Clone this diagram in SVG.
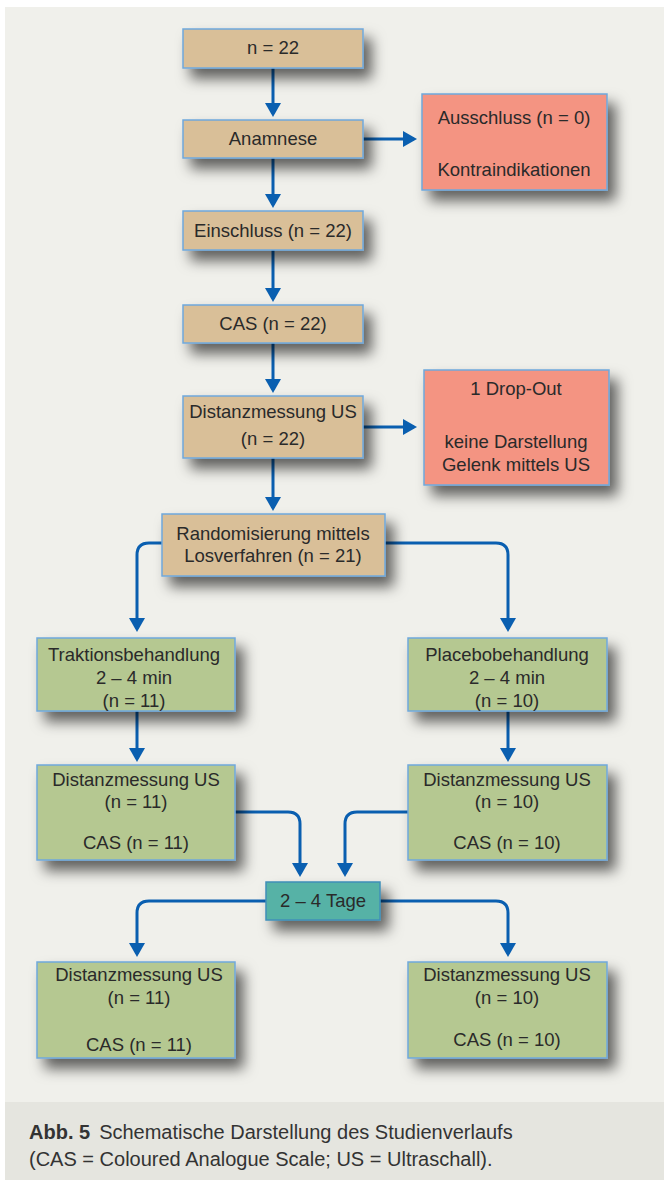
<svg xmlns="http://www.w3.org/2000/svg" width="664" height="1180" viewBox="0 0 664 1180">
<style>
text{font-family:"Liberation Sans",Arial,sans-serif;font-size:18.5px;fill:#2a2a2a;text-anchor:middle}
.tan{fill:#d9bf98;stroke:#6fa8dc;stroke-width:1.5}
.red{fill:#f49482;stroke:#6fa8dc;stroke-width:1.5}
.grn{fill:#b5c891;stroke:#6fa8dc;stroke-width:1.5}
.teal{fill:#57b2a6;stroke:#3f8fb8;stroke-width:1.5}
.c{fill:none;stroke:#0a5fb0;stroke-width:3;marker-end:url(#ah)}
.cap{text-anchor:start;font-size:20px;fill:#333}
</style>
<defs>
<filter id="sh" x="-20%" y="-20%" width="160%" height="190%">
<feDropShadow dx="8" dy="10" stdDeviation="7" flood-color="#000" flood-opacity="0.6"/>
</filter>
<marker id="ah" viewBox="0 0 14 16" refX="11" refY="8" markerWidth="14" markerHeight="16" markerUnits="userSpaceOnUse" orient="auto">
<path d="M0,0 L14,8 L0,16 z" fill="#0a5fb0"/>
</marker>
</defs>
<rect x="0" y="0" width="664" height="1180" fill="#ffffff"/>
<rect x="5" y="7" width="659" height="1095" fill="#f0f0eb"/>
<rect x="5" y="1102" width="659" height="78" fill="#e5e5df"/>

<g id="connectors">
<path class="c" d="M273,68 V114"/>
<path class="c" d="M363,139 H414"/>
<path class="c" d="M273,158 V205"/>
<path class="c" d="M273,250 V299"/>
<path class="c" d="M273,343 V390"/>
<path class="c" d="M363,427 H414"/>
<path class="c" d="M273,458 V508"/>
<path class="c" d="M162,543 H149 Q137,543 137,555 V629"/>
<path class="c" d="M385,543 H496 Q508,543 508,555 V629"/>
<path class="c" d="M137,711 V759"/>
<path class="c" d="M508,711 V759"/>
<path class="c" d="M235,812 H288 Q300,812 300,824 V874"/>
<path class="c" d="M408,812 H357 Q345,812 345,824 V874"/>
<path class="c" d="M266,901 H149 Q137,901 137,913 V954"/>
<path class="c" d="M380,901 H496 Q508,901 508,913 V954"/>
</g>

<g id="n22"><rect class="tan" x="183" y="29" width="180" height="39" filter="url(#sh)"/><text x="273" y="54">n = 22</text></g>
<g id="anamnese"><rect class="tan" x="183" y="120" width="180" height="38" filter="url(#sh)"/><text x="273" y="145">Anamnese</text></g>
<g id="ausschluss"><rect class="red" x="422" y="94" width="185" height="96" filter="url(#sh)"/><text x="514" y="124">Ausschluss (n = 0)</text><text x="514" y="176">Kontraindikationen</text></g>
<g id="einschluss"><rect class="tan" x="183" y="211" width="180" height="39" filter="url(#sh)"/><text x="273" y="237">Einschluss (n = 22)</text></g>
<g id="cas22"><rect class="tan" x="183" y="305" width="180" height="38" filter="url(#sh)"/><text x="273" y="330">CAS (n = 22)</text></g>
<g id="distanz22"><rect class="tan" x="183" y="396" width="180" height="62" filter="url(#sh)"/><text x="273" y="418">Distanzmessung US</text><text x="273" y="445">(n = 22)</text></g>
<g id="dropout"><rect class="red" x="424" y="370" width="185" height="115" filter="url(#sh)"/><text x="516" y="395">1 Drop-Out</text><text x="516" y="448">keine Darstellung</text><text x="516" y="471">Gelenk mittels US</text></g>
<g id="random"><rect class="tan" x="162" y="514" width="223" height="62" filter="url(#sh)"/><text x="273" y="540">Randomisierung mittels</text><text x="273" y="562">Losverfahren (n = 21)</text></g>
<g id="traktion"><rect class="grn" x="37" y="638" width="198" height="73" filter="url(#sh)"/><text x="134" y="661">Traktionsbehandlung</text><text x="134" y="684">2 – 4 min</text><text x="134" y="707">(n = 11)</text></g>
<g id="placebo"><rect class="grn" x="408" y="638" width="199" height="73" filter="url(#sh)"/><text x="507" y="661">Placebobehandlung</text><text x="507" y="684">2 – 4 min</text><text x="507" y="707">(n = 10)</text></g>
<g id="distL1"><rect class="grn" x="37" y="765" width="198" height="95" filter="url(#sh)"/><text x="136" y="786">Distanzmessung US</text><text x="136" y="808">(n = 11)</text><text x="136" y="849">CAS (n = 11)</text></g>
<g id="distR1"><rect class="grn" x="408" y="765" width="199" height="95" filter="url(#sh)"/><text x="507" y="786">Distanzmessung US</text><text x="507" y="808">(n = 10)</text><text x="507" y="849">CAS (n = 10)</text></g>
<g id="tage"><rect class="teal" x="266" y="882" width="114" height="38" filter="url(#sh)"/><text x="323" y="907">2 – 4 Tage</text></g>
<g id="distL2"><rect class="grn" x="37" y="962" width="198" height="96" filter="url(#sh)"/><text x="139" y="981">Distanzmessung US</text><text x="139" y="1004">(n = 11)</text><text x="139" y="1051">CAS (n = 11)</text></g>
<g id="distR2"><rect class="grn" x="408" y="962" width="199" height="96" filter="url(#sh)"/><text x="507" y="981">Distanzmessung US</text><text x="507" y="1004">(n = 10)</text><text x="507" y="1046">CAS (n = 10)</text></g>

<g id="caption">
<text class="cap" x="29" y="1139"><tspan font-weight="bold">Abb. 5</tspan><tspan dx="9">Schematische Darstellung des Studienverlaufs</tspan></text>
<text class="cap" x="29" y="1166">(CAS = Coloured Analogue Scale; US = Ultraschall).</text>
</g>
</svg>
